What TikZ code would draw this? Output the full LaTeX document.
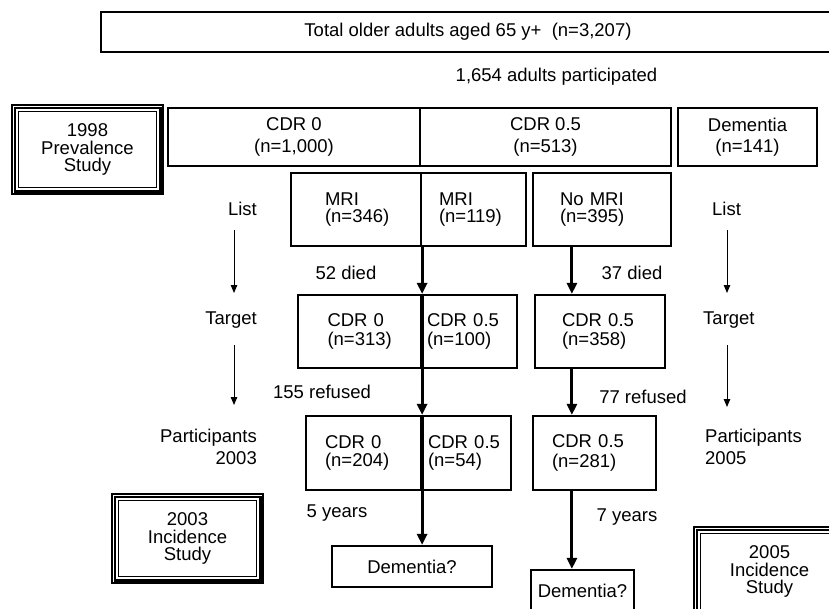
\documentclass[tikz,border=0pt]{standalone}
\usepackage{fontspec}
\setmainfont{Liberation Sans}
\usetikzlibrary{arrows.meta,calc}
\begin{document}
\begin{tikzpicture}[x=1pt,y=-1pt,
  every node/.style={font=\fontsize{18.5}{21.5}\selectfont},
  box/.style={draw, line width=2.2pt, inner sep=0pt, align=center},
  tight/.style={font=\fontsize{18.5}{17.5}\selectfont},
  mid/.style={font=\fontsize{18.5}{19.5}\selectfont},
  studybox/.style={draw, line width=1.2pt, inner sep=0pt, align=center,
    minimum width=151pt, minimum height=89pt, font=\fontsize{18.5}{17.5}\selectfont},
  lbl/.style={inner sep=0pt},
  bigarrow/.style={line width=3pt, -{Triangle[length=11pt,width=10pt]}},
  thinarrow/.style={line width=1pt, -{Triangle[length=8pt,width=6.5pt]}}
]
\clip (0,0) rectangle (829,608);
\fill[white] (0,0) rectangle (829,608);

% title
\node[draw, line width=1.6pt, minimum width=734pt, minimum height=40pt, inner sep=0pt] (title) at (468,32) {Total older adults aged 65 y+\ \ (n=3,207)};
\node[lbl] (part) at (556.5,77) {1,654 adults participated};

% study boxes (triple border)
\node[studybox] (prev) at (87.5,149.5) {1998\\Prevalence\\Study};
\node[studybox] (inc03) at (187.5,538.5) {2003\\Incidence\\Study};
\node[studybox] (inc05) at (769.5,571.5) {2005\\Incidence\\Study};
\foreach \b in {prev,inc03,inc05}{
  \draw[line width=2.6pt] ([shift={(3.4,3.4)}]\b.north west) rectangle ([shift={(-3.4,-3.4)}]\b.south east);
  \draw[line width=1pt] ([shift={(6.8,6.8)}]\b.north west) rectangle ([shift={(-6.8,-6.8)}]\b.south east);
}

% prevalence row
\node[box, minimum width=252pt, minimum height=58pt] (cdr0) at (294,137) {CDR 0\\(n=1,000)};
\node[box, minimum width=251pt, minimum height=58pt] (cdr05) at (545.5,137) {CDR 0.5\\(n=513)};
\node[box, minimum width=139pt, minimum height=58pt] (dem0) at (747.5,137) {Dementia\\(n=141)};

% MRI row
\node[box, tight, minimum width=130pt, minimum height=73pt, text width=62pt, align=left] (mri1) at (356,209.5) {MRI\\(n=346)\\[4pt]};
\node[box, tight, minimum width=105pt, minimum height=73pt, text width=69pt, align=left] (mri2) at (473.5,209.5) {MRI\\(n=119)\\[4pt]};
\node[box, tight, minimum width=138pt, minimum height=73pt, text width=84pt, align=left] (nomri) at (602,209.5) {No MRI\\(n=395)\\[4pt]};

% target row
\node[box, mid, minimum width=123pt, minimum height=73pt, text width=64pt, align=left] (tgt1) at (359.5,331.5) {CDR 0\\(n=313)};
\node[box, mid, minimum width=96pt, minimum height=73pt, text width=84pt, align=left] (tgt2) at (469,331.5) {CDR 0.5\\(n=100)};
\node[box, mid, minimum width=130pt, minimum height=73pt, text width=76pt, align=left] (tgt3) at (600,331.5) {CDR 0.5\\(n=358)};

% participants row
\node[box, tight, minimum width=115pt, minimum height=74pt, text width=77pt, align=left] (par1) at (363.5,453) {CDR 0\\(n=204)\\[8pt]};
\node[box, tight, minimum width=90pt, minimum height=74pt, text width=76pt, align=left] (par2) at (466,453) {CDR 0.5\\(n=54)\\[8pt]};
\node[box, mid, minimum width=123pt, minimum height=74pt, text width=85pt, align=left] (par3) at (594.5,453) {CDR 0.5\\(n=281)};

% outcome boxes
\node[box, minimum width=160pt, minimum height=41pt] (dem1) at (412,566.5) {Dementia?};
\node[box, minimum width=103pt, minimum height=42pt] (dem2) at (582.5,591) {Dementia?};

% side labels
\node[lbl, anchor=east] (listL) at (257,209) {List};
\node[lbl, anchor=east] (tgtL) at (257,320) {Target};
\node[lbl, anchor=east, align=right] (parL) at (257,447) {Participants\\2003};
\node[lbl, anchor=west] (listR) at (712,209) {List};
\node[lbl, anchor=west] (tgtR) at (703,320) {Target};
\node[lbl, anchor=west, align=left] (parR) at (705,447) {Participants\\2005};

% flow labels
\node[lbl] (d52) at (346,273) {52 died};
\node[lbl] (d37) at (632,273) {37 died};
\node[lbl] (r155) at (322,392) {155 refused};
\node[lbl] (r77) at (643,397) {77 refused};
\node[lbl] (y5) at (337,513) {5 years};
\node[lbl] (y7) at (627,517) {7 years};

% side arrows
\coordinate (la1) at (234,230); \coordinate (la2) at (234,293);
\coordinate (la3) at (234,345); \coordinate (la4) at (234,405);
\coordinate (ra1) at (727,230); \coordinate (ra2) at (727,293);
\coordinate (ra3) at (727,345); \coordinate (ra4) at (727,407);
\draw[thinarrow] (la1) -- (la2);
\draw[thinarrow] (la3) -- (la4);
\draw[thinarrow] (ra1) -- (ra2);
\draw[thinarrow] (ra3) -- (ra4);

% main flow arrows
\draw[bigarrow] (mri1.south east) -- (tgt1.north east);
\draw[line width=3pt] (tgt1.north east) -- (tgt1.south east);
\draw[bigarrow] (tgt1.south east) -- (par1.north east);
\draw[line width=3pt] (par1.north east) -- (par1.south east);
\draw[bigarrow] (par1.south east) -- (par1.south east |- dem1.north);

\coordinate (bx) at ($(nomri.south west)+(40,0)$);
\draw[bigarrow] (bx) -- (bx |- tgt3.north);
\draw[bigarrow] (bx |- tgt3.south) -- (bx |- par3.north);
\draw[bigarrow] (bx |- par3.south) -- (bx |- dem2.north);
\end{tikzpicture}
\end{document}
